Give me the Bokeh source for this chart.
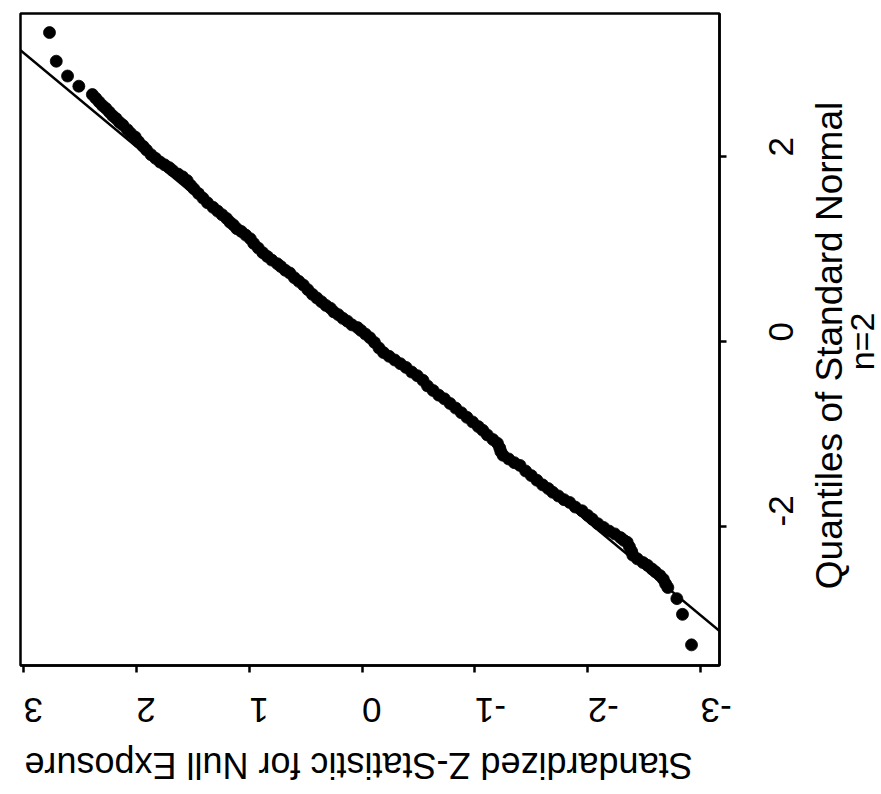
import math
from bokeh.plotting import figure
from bokeh.models import Range1d, FixedTicker, Slope, ColumnDataSource, GridBox
from bokeh.core.properties import value
from bokeh.embed import file_html
from bokeh.resources import INLINE

# Quantiles of standard normal (original x) and standardized Z-statistic (original y)
quantiles = [3.34, 3.03, 2.87, 2.76,
             2.67, 2.63, 2.59, 2.55, 2.52, 2.48, 2.44, 2.41, 2.37, 2.34, 2.29, 2.25, 2.21, 2.16, 2.11, 2.07,
             2.02, 1.98, 1.94, 1.91, 1.88, 1.85, 1.81, 1.78, 1.74, 1.69, 1.65, 1.60, 1.55, 1.50, 1.45, 1.41,
             1.37, 1.33, 1.29, 1.26, 1.22, 1.19, 1.15, 1.11, 1.06, 1.01, 0.96, 0.92, 0.88, 0.84, 0.81, 0.77,
             0.74, 0.69, 0.65, 0.61, 0.56, 0.51, 0.47, 0.43, 0.39, 0.36, 0.32, 0.29, 0.25, 0.22, 0.18, 0.15,
             0.12, 0.08, 0.04, -0.01, -0.07, -0.12, -0.16, -0.20, -0.24, -0.28, -0.33, -0.37, -0.42, -0.48,
             -0.53, -0.58, -0.62, -0.67, -0.72, -0.77, -0.82, -0.87, -0.92, -0.96, -1.01, -1.06, -1.10, -1.15,
             -1.19, -1.23, -1.27, -1.31, -1.34, -1.40, -1.45, -1.50, -1.55, -1.59, -1.63, -1.67, -1.71, -1.74,
             -1.79, -1.83, -1.88, -1.92, -1.97, -2.01, -2.05, -2.08, -2.12, -2.15, -2.17, -2.22, -2.27, -2.31,
             -2.35, -2.39, -2.42, -2.46, -2.49, -2.53, -2.57, -2.62, -2.66,
             -2.78, -2.95, -3.28]
zstat = [2.77, 2.71, 2.61, 2.51,
         2.39, 2.36, 2.33, 2.30, 2.27, 2.24, 2.21, 2.18, 2.15, 2.12, 2.08, 2.05, 2.01, 1.98, 1.94, 1.91,
         1.87, 1.83, 1.79, 1.75, 1.71, 1.68, 1.63, 1.59, 1.55, 1.52, 1.49, 1.45, 1.41, 1.37, 1.32, 1.28,
         1.24, 1.20, 1.17, 1.14, 1.11, 1.07, 1.03, 0.99, 0.96, 0.92, 0.88, 0.84, 0.80, 0.75, 0.72, 0.68,
         0.64, 0.60, 0.56, 0.52, 0.48, 0.44, 0.40, 0.36, 0.32, 0.28, 0.25, 0.21, 0.17, 0.13, 0.09, 0.04,
         0.01, -0.03, -0.07, -0.11, -0.15, -0.19, -0.24, -0.29, -0.34, -0.39, -0.44, -0.49, -0.54, -0.58,
         -0.63, -0.68, -0.73, -0.78, -0.83, -0.88, -0.93, -0.98, -1.03, -1.07, -1.11, -1.16, -1.20, -1.22,
         -1.23, -1.25, -1.30, -1.35, -1.40, -1.45, -1.50, -1.55, -1.60, -1.65, -1.69, -1.74, -1.79, -1.84,
         -1.89, -1.95, -2.00, -2.04, -2.09, -2.14, -2.19, -2.24, -2.29, -2.32, -2.35, -2.37, -2.39, -2.40,
         -2.44, -2.49, -2.53, -2.57, -2.60, -2.64, -2.67, -2.69, -2.71,
         -2.79, -2.84, -2.92]

# reference line (Z = intercept + slope * quantile)
line_intercept = -0.079
line_slope = 0.987

z_ticks = [3, 2, 1, 0, -1, -2, -3]
z_tick_labels = ["3", "2", "1", "0", "-1", "-2", "-3"]
q_ticks = [-2, 0, 2]
q_tick_labels = ["-2", "0", "2"]

z_title = "Standardized Z-Statistic for Null Exposure"
q_title = "Quantiles of Standard Normal"
q_subtitle = "n=2"

FONT = "Liberation Sans"
FS = "35px"
W, H = 881, 794

p = figure(width=W, height=H,
           x_range=Range1d(3.027, -3.168), y_range=Range1d(-3.503, 3.546),
           output_backend="svg", toolbar_location=None,
           x_axis_location="below", y_axis_location="right",
           min_border_left=20, min_border_right=162,
           min_border_top=13, min_border_bottom=129)
p.title.visible = False
p.grid.visible = False
p.background_fill_color = "white"
p.border_fill_color = "white"
p.outline_line_color = "black"
p.outline_line_width = 2.5

src = ColumnDataSource(dict(z=zstat, q=quantiles))
p.scatter("z", "q", source=src, size=12, marker="circle",
          fill_color="black", line_color="black", line_width=0.8)

p.add_layout(Slope(gradient=1.0 / line_slope, y_intercept=-line_intercept / line_slope,
                   line_color="black", line_width=2.5))

xa = p.xaxis[0]
xa.ticker = FixedTicker(ticks=z_ticks)
xa.major_label_overrides = {t: s for t, s in zip(z_ticks, z_tick_labels)}
xa.major_label_orientation = math.pi
xa.major_label_standoff = 37
ya = p.yaxis[0]
ya.ticker = FixedTicker(ticks=q_ticks)
ya.major_label_overrides = {t: s for t, s in zip(q_ticks, q_tick_labels)}
ya.major_label_orientation = math.pi / 2
ya.major_label_standoff = 55
for ax in (xa, ya):
    ax.axis_line_color = "black"
    ax.axis_line_width = 2.5
    ax.major_tick_line_color = "black"
    ax.major_tick_line_width = 2.5
    ax.major_tick_out = 7
    ax.major_tick_in = 0
    ax.minor_tick_out = 0
    ax.minor_tick_in = 0
    ax.major_label_text_font = FONT
    ax.major_label_text_font_size = FS
    ax.major_label_text_color = "black"

# transparent overlay that carries the (rotated) axis titles outside the frame
ov = figure(width=W, height=H, x_range=Range1d(0, W), y_range=Range1d(H, 0),
            output_backend="svg", toolbar_location=None,
            x_axis_location=None, y_axis_location=None,
            min_border=0, min_border_left=0, min_border_right=0,
            min_border_top=0, min_border_bottom=0)
ov.title.visible = False
ov.grid.visible = False
ov.outline_line_color = None
ov.background_fill_alpha = 0
ov.border_fill_alpha = 0
if "frame_align" in type(ov).properties():
    ov.frame_align = False
    p.frame_align = False

ov.text(x=[358], y=[765], text=[z_title], angle=math.pi,
        text_align="center", text_baseline="middle",
        text_font=value(FONT), text_font_size=value("36px"), text_color="black")
ov.text(x=[829], y=[345], text=[q_title], angle=math.pi / 2,
        text_align="center", text_baseline="middle",
        text_font=value(FONT), text_font_size=value("37px"), text_color="black")
ov.text(x=[861], y=[341], text=[q_subtitle], angle=math.pi / 2,
        text_align="center", text_baseline="middle",
        text_font=value(FONT), text_font_size=value("34px"), text_color="black")

layout = GridBox(children=[(p, 0, 0), (ov, 0, 0)])

open("out.html", "w").write(file_html(layout, INLINE))
